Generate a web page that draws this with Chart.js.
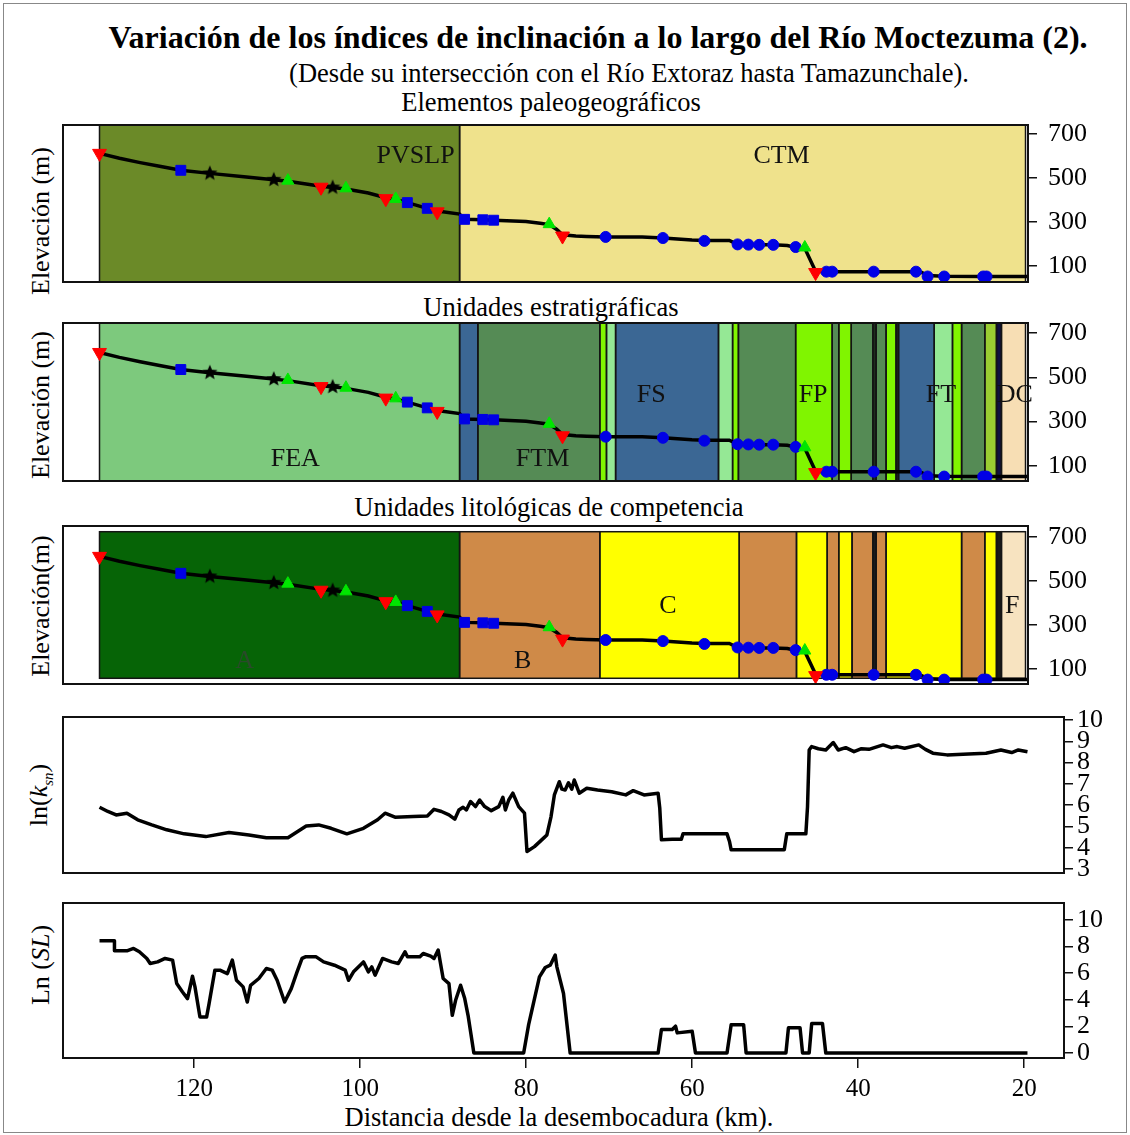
<!DOCTYPE html>
<html>
<head>
<meta charset="utf-8">
<script src="https://cdn.jsdelivr.net/npm/chart.js@4.4.1/dist/chart.umd.min.js"></script>
<style>
  body { margin: 0; background: #fff; }
  #fig { position: relative; width: 1130px; height: 1135px; overflow: hidden;
         font-family: "Liberation Serif", "Times New Roman", serif; color: #000; }
  #box { position: absolute; left: 3px; top: 3px; width: 1122px; height: 1128px; border: 1px solid #888; }
  .t { position: absolute; white-space: nowrap; line-height: 1; transform: translate(-50%, -50%); }
  .v { transform: translate(-50%, -50%) rotate(-90deg); }
  canvas { position: absolute; left: 0; }
</style>
</head>
<body>
<div id="fig">
  <div id="box"></div>
  <div class="t" style="left:598px;top:37px;font-size:32px;font-weight:bold;">Variación de los índices de inclinación a lo largo del Río Moctezuma (2).</div>
  <div class="t" style="left:629px;top:73px;font-size:26.5px;">(Desde su intersección con el Río Extoraz hasta Tamazunchale).</div>
  <div class="t" style="left:551px;top:102px;font-size:26.5px;">Elementos paleogeográficos</div>
  <div class="t" style="left:551px;top:307px;font-size:26.5px;">Unidades estratigráficas</div>
  <div class="t" style="left:549px;top:507px;font-size:26.5px;">Unidades litológicas de competencia</div>
  <div class="t v" style="left:41px;top:221px;font-size:26px;">Elevación (m)</div>
  <div class="t v" style="left:41px;top:405px;font-size:26px;">Elevación (m)</div>
  <div class="t v" style="left:41px;top:606px;font-size:26px;">Elevación(m)</div>
  <div class="t v" style="left:41px;top:795px;font-size:26px;">ln(<i>k</i><sub style="font-size:15px;font-style:italic;">sn</sub>)</div>
  <div class="t v" style="left:41px;top:965px;font-size:26px;">Ln (<i>SL</i>)</div>
  <div class="t" style="left:559px;top:1117px;font-size:26.5px;">Distancia desde la desembocadura (km).</div>

  <canvas id="c1" width="1130" height="209" style="top:99px"></canvas>
  <canvas id="c2" width="1130" height="210" style="top:297px"></canvas>
  <canvas id="c3" width="1130" height="210" style="top:500px"></canvas>
  <canvas id="c4" width="1130" height="208" style="top:691px"></canvas>
  <canvas id="c5" width="1130" height="233" style="top:877px"></canvas>
</div>

<script>
// ---- river long profile (distance from mouth, km / elevation, m)
const profDist = [131.4, 129, 126.5, 124, 121.6, 118.1, 114, 110.4, 108.7, 104.7, 103.3, 101.7, 99, 96.9, 95.7,
  94.3, 91.9, 90.7, 88.0, 87.4, 85.2, 83.9, 80, 78.3, 77.2, 76.3, 75.6, 74, 72.7, 70.4, 66, 63.5, 60, 58.5,
  55.5, 54.5, 53.2, 51.9, 50.2, 48.5, 47.5, 46.4, 45.4, 45.1, 43.8, 43.1, 38.1, 33.0, 32.3, 31.6, 29.6,
  24.9, 24.5, 19.5];
const profElev = [612, 590, 570, 552, 535, 521, 506, 492, 485, 462, 457, 450, 432, 410, 402,
  388, 362, 350, 336, 312, 310, 308, 302, 294, 288, 266, 242, 236, 234, 232, 232, 227, 218, 216,
  216, 198, 197, 196, 196, 193, 184, 180, 100, 76, 74, 74, 74, 74, 70, 56, 53,
  52, 52, 52];

// ---- markers along the profile
const redDownDist = [131.4, 104.7, 96.9, 90.7, 75.6, 45.1];
const redDownElev = [612, 458, 406, 346, 236, 70];
const greenUpDist = [108.7, 101.7, 95.7, 77.2, 46.4];
const greenUpElev = [488, 453, 405, 290, 184];
const blueSqDist = [121.6, 94.3, 91.9, 87.4, 85.2, 83.9];
const blueSqElev = [535, 388, 362, 312, 310, 308];
const blueDotDist = [70.4, 63.5, 58.5, 54.5, 53.2, 51.9, 50.2, 47.5, 43.8, 43.1, 38.1, 33.0, 31.6, 29.6, 24.9, 24.5];
const blueDotElev = [232, 227, 214, 198, 197, 196, 196, 186, 74, 74, 74, 74, 52, 52, 52, 52];
const starDist = [118.1, 110.4, 103.3];
const starElev = [521, 492, 457];

// ---- paleogeographic elements
const paleoFrom = [131.4, 88.0];
const paleoTo = [88.0, 19.8];
const paleoUnit = ['PVSLP', 'CTM'];

// ---- stratigraphic units
const stratFrom = [131.4, 88.0, 85.8, 71.1, 70.3, 69.2, 56.8, 55.1, 54.4, 47.5, 43.1, 42.3, 40.8, 38.2, 37.8,
  36.6, 35.4, 35.1, 30.8, 28.6, 27.5, 24.7, 23.3, 22.7];
const stratTo = [88.0, 85.8, 71.1, 70.3, 69.2, 56.8, 55.1, 54.4, 47.5, 43.1, 42.3, 40.8, 38.2, 37.8, 36.6,
  35.4, 35.1, 30.8, 28.6, 27.5, 24.7, 23.3, 22.7, 19.8];
const stratUnit = ['FEA', 'FS', 'FTM', 'FP', 'FT', 'FS', 'FT', 'FP', 'FTM', 'FP', 'FTM', 'FP', 'FTM', 'K', 'FTM',
  'FP', 'K', 'FS', 'FT', 'FP', 'FTM', 'FO', 'N', 'DC'];

// ---- lithological competence units
const lithoFrom = [131.4, 88.0, 71.1, 54.3, 47.4, 43.7, 42.3, 40.7, 38.2, 37.8, 36.6, 27.5, 24.7, 23.3, 22.7];
const lithoTo = [88.0, 71.1, 54.3, 47.4, 43.7, 42.3, 40.7, 38.2, 37.8, 36.6, 27.5, 24.7, 23.3, 22.7, 19.8];
const lithoUnit = ['A', 'B', 'C', 'B', 'C', 'B', 'C', 'B', 'K', 'B', 'C', 'B', 'C', 'K', 'F'];

// ---- ln(ksn)
const ksnDist = [131.4, 130.4, 129.4, 128.1, 126.8, 125.1, 123.3, 121.2, 118.6, 115.8, 113.4, 111.3, 108.7,
  106.5, 105.0, 103.5, 101.6, 99.6, 97.9, 97.0, 95.8, 93.6, 91.9, 91.1, 90.2, 89.3, 88.6, 88.1, 87.6, 87.2,
  86.7, 86.1, 85.6, 85.0, 84.2, 83.3, 82.8, 82.5, 82.1, 81.6, 80.9, 80.2, 79.9, 79.0, 77.9, 77.5, 77.0, 76.6,
  76.0, 75.7, 75.3, 74.9, 74.5, 74.2, 73.6, 72.7, 71.4, 69.7, 68.0, 67.1, 65.8, 64.1, 63.9, 63.7, 62.4,
  61.3, 61.1, 55.8, 55.5, 55.3, 48.9, 48.6, 46.3, 46.1, 45.9, 45.6, 44.8, 43.9, 43.0, 42.4, 41.5, 40.5,
  39.6, 38.7, 37.0, 36.0, 35.3, 34.4, 32.7, 31.9, 31.0, 29.3, 26.7, 24.6, 22.8, 21.5, 20.7, 19.6];
const ksnVal = [5.90, 5.70, 5.54, 5.62, 5.31, 5.07, 4.84, 4.65, 4.52, 4.71, 4.60, 4.47, 4.47,
  5.02, 5.07, 4.91, 4.65, 4.91, 5.31, 5.62, 5.43, 5.46, 5.49, 5.80, 5.70, 5.54, 5.34, 5.77, 5.90, 5.77,
  6.17, 5.93, 6.24, 5.93, 5.74, 5.93, 6.37, 5.77, 6.24, 6.56, 5.93, 5.62, 3.82, 4.05, 4.45, 4.60, 5.46, 6.48,
  7.10, 6.75, 6.71, 7.05, 6.75, 7.18, 6.56, 6.79, 6.71, 6.63, 6.48, 6.68, 6.48, 6.56, 5.85, 4.37, 4.40,
  4.40, 4.65, 4.65, 4.29, 3.90, 3.90, 4.65, 4.65, 5.93, 8.59, 8.75, 8.65, 8.59, 8.94, 8.59, 8.70, 8.51,
  8.65, 8.62, 8.83, 8.70, 8.75, 8.67, 8.83, 8.62, 8.44, 8.36, 8.40, 8.44, 8.59, 8.47, 8.59, 8.51];

// ---- Ln(SL)
const slDist = [131.4, 129.6, 129.6, 128.1, 127.3, 126.6, 125.7, 125.3, 124.4, 123.5, 122.6, 122.1, 121.4,
  120.8, 120.2, 119.9, 119.3, 118.5, 118.2, 117.5, 116.9, 116.0, 115.4, 114.9, 114.1, 113.6, 113.2, 112.2,
  111.3, 110.6, 110.0, 109.1, 108.3, 107.6, 107.0, 106.6, 105.3, 104.4, 103.1, 101.8, 101.4, 100.8, 99.6,
  99.0, 98.6, 98.2, 97.3, 96.2, 95.4, 94.6, 94.3, 92.8, 92.4, 91.5, 91.1, 90.6, 90.0, 89.3, 88.9, 88.5,
  87.9, 87.4, 87.0, 86.3, 80.3, 79.7, 78.4, 77.7, 77.1, 76.5, 76.3, 75.5, 74.7, 64.1, 63.7, 62.4, 62.0,
  61.8, 60.0, 59.6, 55.8, 55.3, 53.8, 53.5, 48.7, 48.4, 47.0, 46.7, 45.9, 45.6, 44.3, 43.9, 19.6];
const slVal = [8.44, 8.44, 7.68, 7.68, 7.86, 7.61, 7.11, 6.73, 6.85, 7.11, 6.98, 5.22, 4.59,
  4.09, 5.77, 4.97, 2.70, 2.70, 3.71, 6.23, 6.23, 5.97, 6.98, 5.47, 4.97, 3.83, 5.09, 5.60,
  6.35, 6.23, 5.47, 3.83, 4.84, 6.10, 7.11, 7.23, 7.23, 6.85, 6.60, 6.23, 5.47, 6.10, 6.85,
  6.10, 6.47, 5.85, 7.11, 6.85, 6.73, 7.61, 7.23, 7.23, 7.48, 7.28, 7.11, 7.74, 5.60, 5.22, 2.83, 3.96,
  5.09, 4.09, 2.83, 0, 0, 2.13, 5.72, 6.43, 6.60, 7.36, 6.48, 4.47, 0, 0, 1.76, 1.76, 2.01,
  1.51, 1.64, 0, 0, 2.13, 2.13, 0, 0, 1.89, 1.89, 0, 0, 2.21, 2.21, 0, 0];

// ---- axis ticks
const distTicks = [120, 100, 80, 60, 40, 20];
const elevTicks = [100, 300, 500, 700];
const ksnTicks = [3, 4, 5, 6, 7, 8, 9, 10];
const slTicks = [0, 2, 4, 6, 8, 10];

// ---- styling (colours per unit, label placement)
const paleoColors = { PVSLP: '#6b8a28', CTM: '#efe28c' };
const stratColors = { FEA: '#7dc97d', FS: '#3b6794', FTM: '#558b55', FP: '#80f500', FT: '#95e895',
  FO: '#9acd32', K: '#1d2d1d', N: '#101040', DC: '#f7deb4' };
const lithoColors = { A: '#066406', B: '#cf8a48', C: '#ffff00', K: '#1a1a1a', F: '#f7e3c0' };
const paleoLabels = [['PVSLP', 93.3, 598], ['CTM', 49.2, 598]];
const stratLabels = [['FEA', 107.8, 130], ['FTM', 78.0, 130], ['FS', 64.9, 418], ['FP', 45.4, 418],
  ['FT', 30.0, 418], ['DC', 21.1, 418]];
const lithoLabels = [['A', 113.9, 138, '#2a4a2a'], ['B', 80.4, 138], ['C', 62.9, 385], ['F', 21.4, 385]];

const FONT = 'Liberation Serif';
const PAD = 26;

function starImage(r) {
  const c = document.createElement('canvas');
  c.width = c.height = 2 * r + 2;
  const g = c.getContext('2d');
  g.fillStyle = '#000';
  g.beginPath();
  for (let i = 0; i < 10; i++) {
    const a = -Math.PI / 2 + i * Math.PI / 5;
    const rr = i % 2 ? r * 0.45 : r;
    g.lineTo(r + 1 + rr * Math.cos(a), r + 1 + rr * Math.sin(a));
  }
  g.closePath();
  g.fill();
  return c;
}

const bandsPlugin = {
  id: 'bands',
  beforeDatasetsDraw(chart, args, opts) {
    if (!opts.from) return;
    const { ctx, chartArea: a, scales: { x, y } } = chart;
    const top = opts.yRange ? y.getPixelForValue(opts.yRange[1]) : a.top;
    const bot = opts.yRange ? y.getPixelForValue(opts.yRange[0]) : a.bottom;
    ctx.save();
    opts.from.forEach((f, i) => {
      const x1 = x.getPixelForValue(f), x2 = x.getPixelForValue(opts.to[i]);
      ctx.fillStyle = opts.colors[opts.units[i]];
      ctx.fillRect(x1, top, x2 - x1, bot - top);
    });
    ctx.strokeStyle = '#141414';
    ctx.lineWidth = 1.5;
    opts.from.forEach((f, i) => {
      const x1 = x.getPixelForValue(f), x2 = x.getPixelForValue(opts.to[i]);
      ctx.strokeRect(x1, top, x2 - x1, bot - top);
    });
    ctx.font = '26px "' + FONT + '"';
    ctx.textAlign = 'center';
    ctx.textBaseline = 'middle';
    opts.labels.forEach(l => {
      ctx.fillStyle = l[3] || '#111';
      ctx.fillText(l[0], x.getPixelForValue(l[1]), y.getPixelForValue(l[2]));
    });
    ctx.restore();
  },
  afterDraw(chart) {
    const { ctx, chartArea: a } = chart;
    ctx.save();
    ctx.strokeStyle = '#111';
    ctx.lineWidth = 2;
    ctx.strokeRect(a.left, a.top, a.right - a.left, a.bottom - a.top);
    ctx.restore();
  }
};
Chart.register(bandsPlugin);

function pts(xs, ys) {
  return xs.map((d, i) => ({ x: d, y: ys[i] }));
}

function panelOptions(p) {
  return {
    responsive: false,
    animation: false,
    events: [],
    layout: { autoPadding: false, padding: { left: 63, right: p.padRight, top: PAD, bottom: p.showX ? 0 : PAD } },
    plugins: { legend: { display: false }, tooltip: { enabled: false }, bands: p.bands || {} },
    scales: {
      x: {
        type: 'linear', reverse: true, min: p.xMin, max: 135.8, display: p.showX,
        afterBuildTicks: s => { s.ticks = distTicks.map(v => ({ value: v })); },
        afterFit: s => { if (p.showX) s.height = 52; },
        grid: { drawOnChartArea: false, drawTicks: true, tickLength: 10, color: '#111', lineWidth: 1.5 },
        border: { display: false },
        ticks: { font: { family: FONT, size: 25 }, color: '#000', padding: 6, maxRotation: 0, autoSkip: false }
      },
      y: {
        type: 'linear', position: 'right', min: p.yMin, max: p.yMax,
        afterBuildTicks: s => { s.ticks = p.yTicks.map(v => ({ value: v })); },
        afterFit: s => { s.width = p.axisW; },
        grid: { drawOnChartArea: false, drawTicks: true, tickLength: 9, color: '#111', lineWidth: 1.5 },
        border: { display: false },
        ticks: { font: { family: FONT, size: 26, lineHeight: 1 }, color: '#000', padding: p.tickPad, autoSkip: false }
      }
    }
  };
}

const star = starImage(8);

function profileDatasets() {
  return [
    { data: pts(redDownDist, redDownElev), pointStyle: 'triangle', rotation: 180, pointRadius: 8,
      backgroundColor: '#ff0000', borderColor: '#ff0000', order: 1 },
    { data: pts(greenUpDist, greenUpElev), pointStyle: 'triangle', pointRadius: 7,
      backgroundColor: '#00e600', borderColor: '#00e600', order: 1 },
    { data: pts(blueSqDist, blueSqElev), pointStyle: 'rect', pointRadius: 7,
      backgroundColor: '#0000e6', borderColor: '#0000e6', order: 1 },
    { data: pts(blueDotDist, blueDotElev), pointStyle: 'circle', pointRadius: 5.5,
      backgroundColor: '#0000e6', borderColor: '#0000e6', order: 1 },
    { data: pts(starDist, starElev), pointStyle: star, order: 1 },
    { data: pts(profDist, profElev), showLine: true, borderColor: '#000', borderWidth: 3.5,
      pointRadius: 0, order: 5 }
  ];
}

function elevationPanel(id, yMin, yMax, bands) {
  new Chart(document.getElementById(id), {
    type: 'scatter',
    data: { datasets: profileDatasets() },
    options: panelOptions({ xMin: 19.5, padRight: 22, axisW: 80, tickPad: 11, showX: false,
      yMin, yMax, yTicks: elevTicks, bands })
  });
}

elevationPanel('c1', 27, 741, { from: paleoFrom, to: paleoTo, units: paleoUnit, colors: paleoColors, labels: paleoLabels });
elevationPanel('c2', 32, 745, { from: stratFrom, to: stratTo, units: stratUnit, colors: stratColors, labels: stratLabels });
elevationPanel('c3', 32, 750, { from: lithoFrom, to: lithoTo, units: lithoUnit, colors: lithoColors, labels: lithoLabels, yRange: [58, 724] });

function indexPanel(id, xs, ys, yMin, yMax, yTicks, showX) {
  new Chart(document.getElementById(id), {
    type: 'scatter',
    data: { datasets: [{ data: pts(xs, ys), showLine: true, borderColor: '#000', borderWidth: 3.5,
      pointRadius: 0, borderJoinStyle: 'round' }] },
    options: panelOptions({ xMin: 15.2, padRight: 0, axisW: 66, tickPad: 4, showX, yMin, yMax, yTicks })
  });
}

indexPanel('c4', ksnDist, ksnVal, 2.81, 10.14, ksnTicks, false);
indexPanel('c5', slDist, slVal, -0.38, 11.28, slTicks, true);
</script>
</body>
</html>
